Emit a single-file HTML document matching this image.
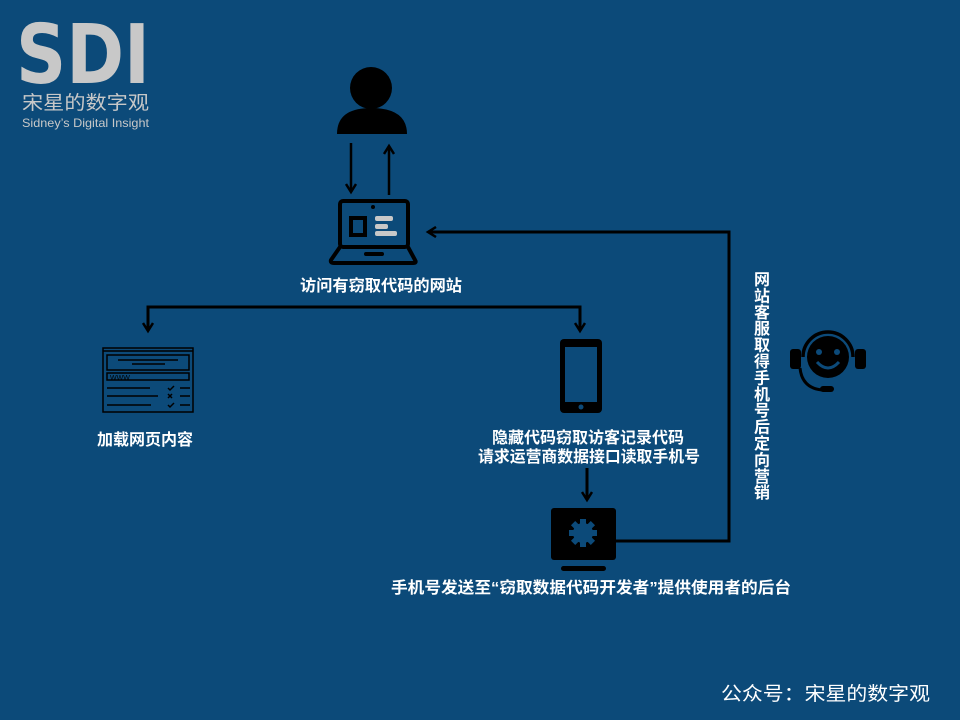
<!DOCTYPE html>
<html><head><meta charset="utf-8"><style>
html,body{margin:0;padding:0;background:#0c4a79;}
svg{display:block}
</style></head><body>
<svg width="960" height="720" viewBox="0 0 960 720" xmlns="http://www.w3.org/2000/svg">
<rect width="960" height="720" fill="#0c4a79"/>
<defs>
<marker id="ah" markerWidth="12" markerHeight="12" refX="9" refY="6" orient="auto" markerUnits="userSpaceOnUse">
<path d="M1,1 L9,6 L1,11" fill="none" stroke="#000" stroke-width="2.5"/>
</marker>
</defs>
<!-- logo -->
<text x="16" y="83" font-family="DejaVu Sans, sans-serif" font-weight="bold" font-size="82" fill="#c8c8c8" textLength="134" lengthAdjust="spacingAndGlyphs">SDI</text>
<text x="22" y="109" font-family="Liberation Sans, Noto Sans CJK SC, sans-serif" font-size="19" fill="#c8c8c8" textLength="127" lengthAdjust="spacingAndGlyphs">宋星的数字观</text>
<text x="22" y="127" font-family="Liberation Sans, sans-serif" font-size="12" fill="#c8c8c8" textLength="127" lengthAdjust="spacingAndGlyphs">Sidney’s Digital Insight</text>

<!-- person -->
<circle cx="371" cy="88" r="21" fill="#000"/>
<path d="M337,134 Q337,108 371,108 Q407,108 407,134 Z" fill="#000"/>
<line x1="351" y1="143" x2="351" y2="192" stroke="#000" stroke-width="2.5" marker-end="url(#ah)"/>
<line x1="389" y1="195" x2="389" y2="146" stroke="#000" stroke-width="2.5" marker-end="url(#ah)"/>

<!-- laptop -->
<rect x="340" y="201" width="68" height="46" rx="3" fill="none" stroke="#000" stroke-width="4"/>
<path d="M340,247 L331,260 Q330,263 334,263 L413,263 Q417,263 415,260 L408,247" fill="none" stroke="#000" stroke-width="4"/>
<rect x="364" y="252" width="20" height="4" rx="2" fill="#000"/>
<circle cx="373" cy="207" r="2" fill="#000"/>
<rect x="351" y="218" width="14" height="17" fill="none" stroke="#000" stroke-width="4"/>
<rect x="375" y="216" width="18" height="5" rx="2" fill="#c8c8c8"/>
<rect x="375" y="224" width="13" height="5" rx="2" fill="#c8c8c8"/>
<rect x="375" y="231" width="22" height="5" rx="2" fill="#c8c8c8"/>

<g font-family="Liberation Sans, Noto Sans CJK SC, sans-serif" font-weight="bold" font-size="16" fill="#fff" text-anchor="middle">
<text x="381" y="291" textLength="162" lengthAdjust="spacingAndGlyphs">访问有窃取代码的网站</text>
<text x="145" y="445" textLength="96" lengthAdjust="spacingAndGlyphs">加载网页内容</text>
<text x="588" y="443" textLength="192" lengthAdjust="spacingAndGlyphs">隐藏代码窃取访客记录代码</text>
<text x="589" y="462" textLength="222" lengthAdjust="spacingAndGlyphs">请求运营商数据接口读取手机号</text>
<text x="591" y="593" textLength="400" lengthAdjust="spacingAndGlyphs">手机号发送至“窃取数据代码开发者”提供使用者的后台</text>
</g>

<!-- split line -->
<path d="M580,331 L580,307 L148,307 L148,331" fill="none" stroke="#000" stroke-width="3"/>
<line x1="148" y1="320" x2="148" y2="331" stroke="#000" stroke-width="3" marker-end="url(#ah)"/>
<line x1="580" y1="320" x2="580" y2="331" stroke="#000" stroke-width="3" marker-end="url(#ah)"/>

<!-- browser icon -->
<g fill="none" stroke="#000" stroke-width="1.5">
<rect x="103" y="348" width="90" height="64"/>
<line x1="103" y1="351" x2="193" y2="351"/>
<rect x="107" y="355" width="82" height="15"/>
<line x1="118" y1="360" x2="178" y2="360"/>
<line x1="132" y1="364" x2="165" y2="364"/>
<rect x="107" y="373" width="82" height="7"/>
<line x1="107" y1="388" x2="150" y2="388"/>
<line x1="107" y1="396" x2="158" y2="396"/>
<line x1="107" y1="405" x2="151" y2="405"/>
<line x1="180" y1="388" x2="190" y2="388"/><line x1="180" y1="396" x2="190" y2="396"/><line x1="180" y1="405" x2="190" y2="405"/>
<path d="M168,388 l2,2 l4,-4 M168,405 l2,2 l4,-4 M168,394 l4,4 M172,394 l-4,4"/>
</g>
<text x="110" y="380" font-family="Liberation Sans, sans-serif" font-size="7" fill="#000">WWW</text>

<!-- phone -->
<rect x="560" y="339" width="42" height="74" rx="4" fill="#000"/>
<rect x="565" y="347" width="32" height="55" fill="#0c4a79"/>
<circle cx="581" cy="407" r="2.5" fill="#0c4a79"/>

<line x1="587" y1="468" x2="587" y2="500" stroke="#000" stroke-width="3" marker-end="url(#ah)"/>

<!-- monitor -->
<rect x="551" y="508" width="65" height="52" rx="3" fill="#000"/>
<g fill="#0c4a79" transform="translate(583,533)">
<circle r="10"/>
<rect x="-3" y="-14" width="6" height="28"/>
<rect x="-3" y="-14" width="6" height="28" transform="rotate(45)"/>
<rect x="-3" y="-14" width="6" height="28" transform="rotate(90)"/>
<rect x="-3" y="-14" width="6" height="28" transform="rotate(135)"/>
</g>
<rect x="561" y="566" width="45" height="5" rx="2.5" fill="#000"/>

<!-- return line -->
<path d="M616,541 L729,541 L729,232 L428,232" fill="none" stroke="#000" stroke-width="3" marker-end="url(#ah)"/>

<!-- vertical text -->
<g font-family="Liberation Sans, Noto Sans CJK SC, sans-serif" font-weight="bold" font-size="16" fill="#fff" text-anchor="middle">
<text x="762" y="285">网</text><text x="762" y="301.4">站</text><text x="762" y="317.8">客</text><text x="762" y="334.2">服</text>
<text x="762" y="350.6">取</text><text x="762" y="367">得</text><text x="762" y="383.4">手</text><text x="762" y="399.8">机</text>
<text x="762" y="416.2">号</text><text x="762" y="432.6">后</text><text x="762" y="449">定</text><text x="762" y="465.4">向</text>
<text x="762" y="481.8">营</text><text x="762" y="498.2">销</text>
</g>

<!-- headset -->
<circle cx="828" cy="357" r="21" fill="#000"/>
<path d="M803,357 A25,25 0 0 1 853,357" fill="none" stroke="#000" stroke-width="3.5"/>
<rect x="790" y="349" width="11" height="20" rx="3" fill="#000"/>
<rect x="855" y="349" width="11" height="20" rx="3" fill="#000"/>
<path d="M800,368 Q802,388 822,390" fill="none" stroke="#000" stroke-width="3"/>
<rect x="820" y="386" width="14" height="6" rx="3" fill="#000"/>
<circle cx="819" cy="352" r="3" fill="#0c4a79"/>
<circle cx="837" cy="352" r="3" fill="#0c4a79"/>
<path d="M817,362 Q828,374 839,362" fill="none" stroke="#0c4a79" stroke-width="3"/>

<text x="721" y="700" font-family="Liberation Sans, Noto Sans CJK SC, sans-serif" font-size="19" fill="#fff" textLength="209" lengthAdjust="spacingAndGlyphs">公众号：宋星的数字观</text>
</svg>
</body></html>
